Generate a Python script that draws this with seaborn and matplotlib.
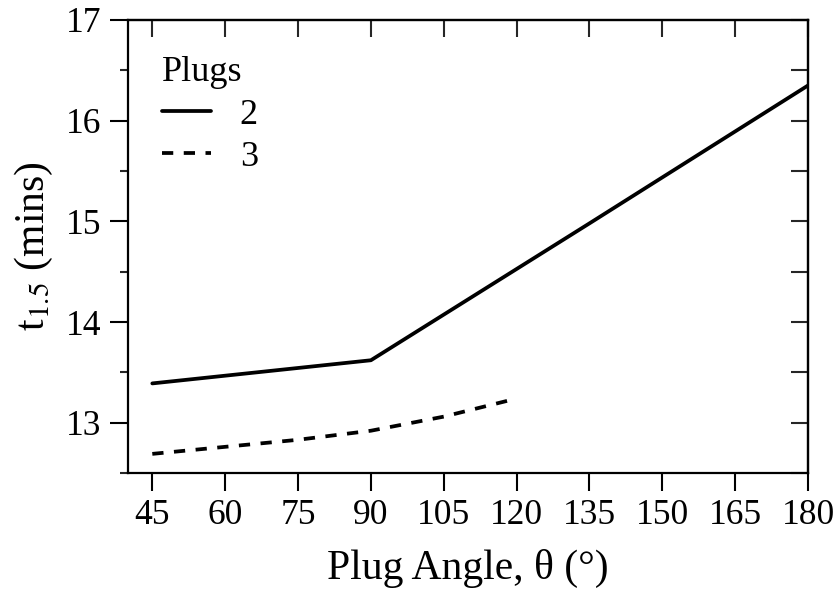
import numpy as np
import pandas as pd
import matplotlib
matplotlib.use("Agg")
import matplotlib.pyplot as plt
import seaborn as sns
from matplotlib.ticker import MultipleLocator

# data
angle_2 = [45, 90, 135, 180]
t15_2 = [13.39, 13.62, 14.98, 16.35]
angle_3 = [45, 60, 75, 90, 105, 120]
t15_3 = [12.69, 12.76, 12.83, 12.92, 13.06, 13.24]
x_ticks = [45, 60, 75, 90, 105, 120, 135, 150, 165, 180]
y_ticks = [13, 14, 15, 16, 17]

df = pd.concat([
    pd.DataFrame({"angle": angle_2, "t15": t15_2, "Plugs": "2"}),
    pd.DataFrame({"angle": angle_3, "t15": t15_3, "Plugs": "3"}),
])

sns.set_theme(style="ticks")
plt.rcParams["font.family"] = ["Liberation Serif", "DejaVu Serif"]
plt.rcParams["mathtext.fontset"] = "stix"
plt.rcParams["text.color"] = "black"
plt.rcParams["axes.labelcolor"] = "black"

fig = plt.figure(figsize=(8.4, 5.97), dpi=100)
ax = fig.add_axes([0.1524, 0.2077, 0.962 - 0.1524, 0.9665 - 0.2077])

sns.lineplot(data=df, x="angle", y="t15", hue="Plugs", style="Plugs",
             palette=["black", "black"], dashes={"2": "", "3": (3.0, 2.8)},
             linewidth=2.7, ax=ax, legend=True)

ax.set_xlim(40, 180)
ax.set_ylim(12.5, 17)
ax.set_xticks(x_ticks)
ax.set_yticks(y_ticks)
ax.yaxis.set_minor_locator(MultipleLocator(0.5))
ax.tick_params(axis="both", which="major", direction="out", length=13,
               width=1.5, labelsize=25.5, colors="black", pad=6)
ax.tick_params(axis="y", which="minor", direction="out", length=6, width=1.5)
for s in ax.spines.values():
    s.set_linewidth(1.6)
    s.set_color("black")
    s.set_visible(True)

sec_y = ax.secondary_yaxis("right")
sec_y.set_yticks(np.arange(12.5, 17.01, 0.5))
sec_y.tick_params(direction="in", length=12, width=1.5, labelright=False)
sec_y.spines["right"].set_linewidth(1.6)

sec_x = ax.secondary_xaxis("top")
sec_x.set_xticks(x_ticks)
sec_x.tick_params(direction="in", length=12, width=1.5, labeltop=False)
sec_x.spines["top"].set_linewidth(1.6)

ax.set_xlabel("Plug Angle, θ (°)", fontsize=30, labelpad=12)
ax.set_ylabel("t$_{1.5}$ (mins)", fontsize=30, labelpad=8)

leg = ax.legend(title="Plugs", frameon=False, loc="upper left",
                fontsize=26, title_fontsize=26, handlelength=1.35,
                handletextpad=0.8, labelspacing=0.25, borderpad=0,
                borderaxespad=0, bbox_to_anchor=(0.05, 0.92),
                alignment="left")

fig.savefig("out.png", dpi=100)
